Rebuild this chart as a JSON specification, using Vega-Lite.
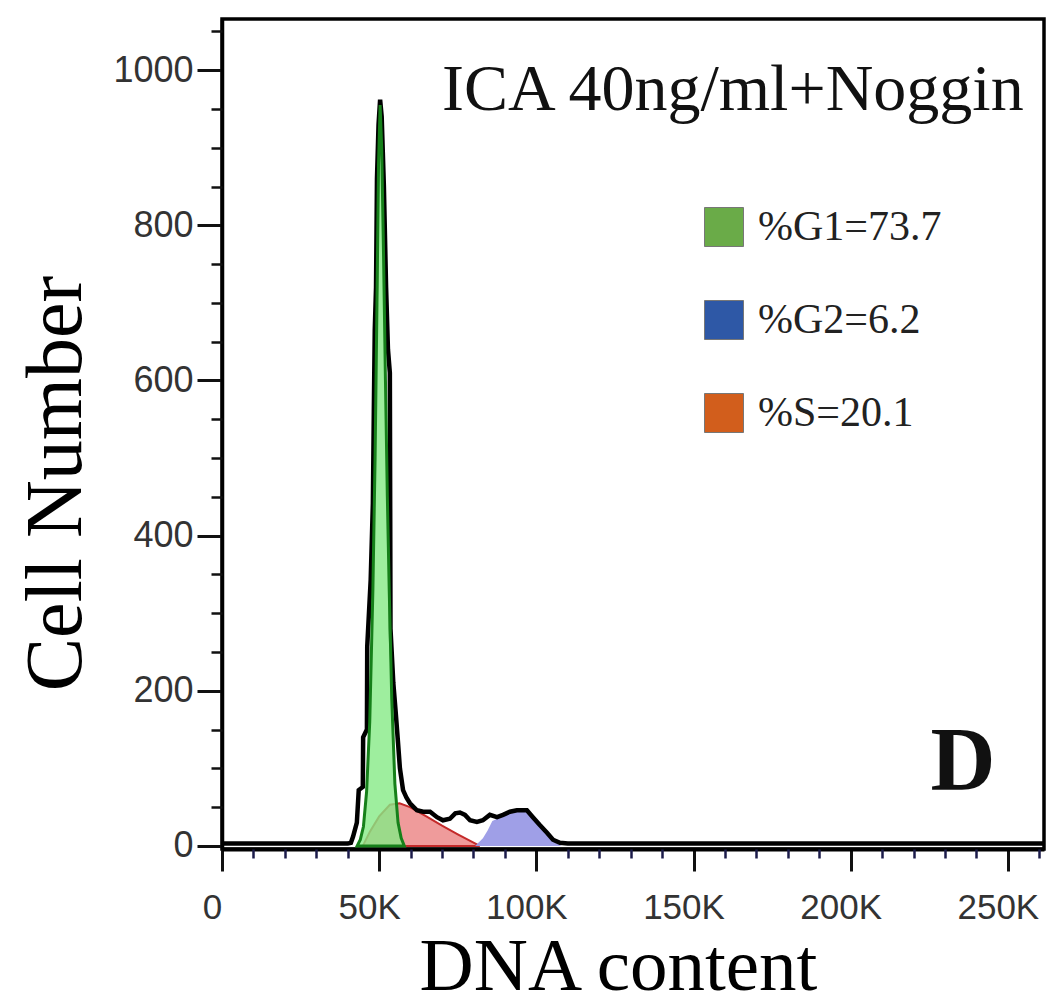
{
  "$schema": "https://vega.github.io/schema/vega-lite/v6.json",
  "width": 822,
  "height": 830,
  "autosize": {"type": "none"},
  "padding": {"left": 222, "top": 19, "right": 2, "bottom": 157},
  "background": "white",
  "config": {"view": {"stroke": "black", "strokeWidth": 3.5}, "axis": {"grid": false}},
  "datasets": {
    "total": [
      {"x": 0, "y": 3}, {"x": 10000, "y": 3}, {"x": 20000, "y": 3}, {"x": 30000, "y": 3}, {"x": 40000, "y": 3},
      {"x": 41000, "y": 4}, {"x": 41700, "y": 12}, {"x": 42900, "y": 30}, {"x": 43500, "y": 72}, {"x": 44800, "y": 76},
      {"x": 44900, "y": 140}, {"x": 46100, "y": 150}, {"x": 46200, "y": 257}, {"x": 47300, "y": 343}, {"x": 48000, "y": 442},
      {"x": 48300, "y": 560}, {"x": 48600, "y": 665}, {"x": 49000, "y": 720}, {"x": 49300, "y": 860}, {"x": 49800, "y": 930},
      {"x": 50300, "y": 962}, {"x": 50800, "y": 940}, {"x": 51500, "y": 850}, {"x": 52200, "y": 720}, {"x": 52800, "y": 640},
      {"x": 53400, "y": 610}, {"x": 53600, "y": 280}, {"x": 54500, "y": 210}, {"x": 55300, "y": 170}, {"x": 56000, "y": 133},
      {"x": 56600, "y": 100}, {"x": 57600, "y": 72}, {"x": 58700, "y": 62}, {"x": 59800, "y": 55}, {"x": 62000, "y": 46},
      {"x": 64000, "y": 44}, {"x": 66200, "y": 44}, {"x": 68400, "y": 37}, {"x": 70300, "y": 33}, {"x": 72500, "y": 35},
      {"x": 74200, "y": 42}, {"x": 75700, "y": 43}, {"x": 77300, "y": 40}, {"x": 78900, "y": 33}, {"x": 81100, "y": 31},
      {"x": 83000, "y": 33}, {"x": 85200, "y": 40}, {"x": 87500, "y": 37}, {"x": 89400, "y": 40}, {"x": 91600, "y": 44},
      {"x": 93800, "y": 46}, {"x": 97000, "y": 46}, {"x": 98900, "y": 37}, {"x": 101100, "y": 27}, {"x": 103400, "y": 17},
      {"x": 105300, "y": 8}, {"x": 107500, "y": 4}, {"x": 110000, "y": 3}, {"x": 130000, "y": 3}, {"x": 160000, "y": 3},
      {"x": 200000, "y": 3}, {"x": 230000, "y": 3}, {"x": 261500, "y": 3}
    ],
    "g1": [
      {"x": 43000, "y": 0}, {"x": 44000, "y": 8}, {"x": 45000, "y": 25}, {"x": 46000, "y": 70}, {"x": 47000, "y": 160},
      {"x": 48000, "y": 330}, {"x": 48700, "y": 500}, {"x": 49300, "y": 700}, {"x": 49800, "y": 880}, {"x": 50300, "y": 955},
      {"x": 50800, "y": 900}, {"x": 51400, "y": 760}, {"x": 52000, "y": 600}, {"x": 52600, "y": 450}, {"x": 53200, "y": 330},
      {"x": 54000, "y": 190}, {"x": 55000, "y": 80}, {"x": 56000, "y": 30}, {"x": 57000, "y": 10}, {"x": 58000, "y": 0}
    ],
    "s": [
      {"x": 44800, "y": 0}, {"x": 47000, "y": 18}, {"x": 50000, "y": 38}, {"x": 53400, "y": 53}, {"x": 56500, "y": 55},
      {"x": 59800, "y": 50}, {"x": 65000, "y": 38}, {"x": 70000, "y": 26}, {"x": 75000, "y": 15}, {"x": 82000, "y": 0}
    ],
    "g2": [
      {"x": 80500, "y": 0}, {"x": 83000, "y": 10}, {"x": 84500, "y": 20}, {"x": 86000, "y": 32}, {"x": 88000, "y": 36},
      {"x": 89400, "y": 39}, {"x": 91600, "y": 43}, {"x": 93800, "y": 45}, {"x": 97000, "y": 45}, {"x": 98900, "y": 36},
      {"x": 101100, "y": 26}, {"x": 103400, "y": 16}, {"x": 105300, "y": 7}, {"x": 107000, "y": 2}, {"x": 108000, "y": 0}
    ],
    "legend": [{"phase": "%G1=73.7"}, {"phase": "%G2=6.2"}, {"phase": "%S=20.1"}]
  },
  "layer": [
    {
      "data": {"name": "s"},
      "mark": {"type": "area", "fill": "#ec8a8a", "fillOpacity": 0.85, "stroke": "#c42a2a", "strokeWidth": 2},
      "encoding": {
        "x": {"field": "x", "type": "quantitative", "scale": {"domain": [0, 261500], "nice": false, "zero": false}, "axis": null},
        "y": {"field": "y", "type": "quantitative", "scale": {"domain": [-4, 1066], "nice": false, "zero": false}, "axis": null}
      }
    },
    {
      "data": {"name": "g2"},
      "mark": {"type": "area", "fill": "#9a9ae6", "fillOpacity": 0.95},
      "encoding": {
        "x": {"field": "x", "type": "quantitative", "axis": null},
        "y": {"field": "y", "type": "quantitative", "axis": null}
      }
    },
    {
      "data": {"name": "total"},
      "mark": {"type": "line", "color": "black", "strokeWidth": 4.5},
      "encoding": {
        "x": {"field": "x", "type": "quantitative",
          "axis": {"orient": "bottom", "values": [0, 50000, 100000, 150000, 200000, 250000],
            "labelExpr": "datum.value == 0 ? '0' : (datum.value / 1000) + 'K'",
            "tickSize": 22, "tickWidth": 3, "tickColor": "#111", "domainColor": "black", "domainWidth": 4,
            "labelFont": "Liberation Sans", "labelFontSize": 35, "labelColor": "#333", "labelPadding": 19, "labelOffset": -10,
            "labelFlush": false, "labelOverlap": false,
            "title": "DNA content", "titleFont": "Liberation Serif", "titleFontSize": 75, "titleFontWeight": "normal",
            "titleColor": "black", "titleX": 396, "titleY": 140, "titleBaseline": "alphabetic", "titleAlign": "center"}},
        "y": {"field": "y", "type": "quantitative",
          "axis": {"orient": "left", "values": [0, 200, 400, 600, 800, 1000], "format": "d",
            "tickSize": 25, "tickWidth": 3, "tickColor": "#111", "domainColor": "black", "domainWidth": 3.5,
            "labelFont": "Liberation Sans", "labelFontSize": 36, "labelColor": "#333", "labelPadding": 4,
            "labelFlush": false, "labelOverlap": false,
            "title": "Cell Number", "titleFont": "Liberation Serif", "titleFontSize": 80, "titleFontWeight": "normal",
            "titleColor": "black", "titleX": -142, "titleY": 464, "titleAngle": -90, "titleBaseline": "alphabetic", "titleAlign": "center"}}
      }
    },
    {
      "data": {"name": "g1"},
      "mark": {"type": "area", "fill": "#86ea86", "fillOpacity": 0.8, "stroke": "#16801a", "strokeWidth": 3},
      "encoding": {
        "x": {"field": "x", "type": "quantitative", "axis": null},
        "y": {"field": "y", "type": "quantitative", "axis": null}
      }
    },
    {
      "data": {"name": "total"},
      "mark": {"type": "line", "opacity": 0},
      "encoding": {
        "x": {"field": "x", "type": "quantitative",
          "axis": {"orient": "bottom", "values": [10000, 20000, 30000, 40000, 60000, 70000, 80000, 90000, 110000, 120000, 130000, 140000, 160000, 170000, 180000, 190000, 210000, 220000, 230000, 240000, 260000],
            "tickSize": 9, "tickWidth": 2.5, "tickColor": "#1b1b4a", "labels": false, "domain": false, "title": null}},
        "y": {"field": "y", "type": "quantitative",
          "axis": {"orient": "left", "values": [50, 100, 150, 250, 300, 350, 450, 500, 550, 650, 700, 750, 850, 900, 950, 1050],
            "tickSize": 11, "tickWidth": 2.5, "tickColor": "#111", "labels": false, "domain": false, "title": null}}
      }
    },
    {
      "data": {"values": [{}]},
      "mark": {"type": "text", "text": "ICA 40ng/ml+Noggin", "font": "Liberation Serif", "fontSize": 66, "align": "center", "baseline": "alphabetic", "color": "#111"},
      "encoding": {
        "x": {"datum": 162500, "type": "quantitative", "axis": null},
        "y": {"datum": 949, "type": "quantitative", "axis": null}
      }
    },
    {
      "data": {"values": [{}]},
      "mark": {"type": "text", "text": "D", "font": "Liberation Serif", "fontSize": 90, "fontWeight": "bold", "align": "center", "baseline": "alphabetic", "color": "#111"},
      "encoding": {
        "x": {"datum": 235700, "type": "quantitative", "axis": null},
        "y": {"datum": 72, "type": "quantitative", "axis": null}
      }
    },
    {
      "data": {"name": "legend"},
      "mark": {"type": "point", "shape": "square", "filled": true, "opacity": 0},
      "encoding": {
        "color": {"field": "phase", "type": "nominal",
          "scale": {"domain": ["%G1=73.7", "%G2=6.2", "%S=20.1"], "range": ["#6aab48", "#2e58a6", "#d25e1c"]},
          "legend": {"orient": "none", "legendX": 481, "legendY": 187, "title": null, "padding": 0,
            "symbolType": "square", "symbolSize": 1521, "symbolOpacity": 1, "symbolStrokeWidth": 1, "symbolStrokeColor": "#777",
            "labelFont": "Liberation Serif", "labelFontSize": 42, "labelColor": "#222", "labelOffset": 13, "labelLimit": 0, "rowPadding": 49}}
      }
    }
  ],
  "resolve": {"axis": {"x": "independent", "y": "independent"}}
}
